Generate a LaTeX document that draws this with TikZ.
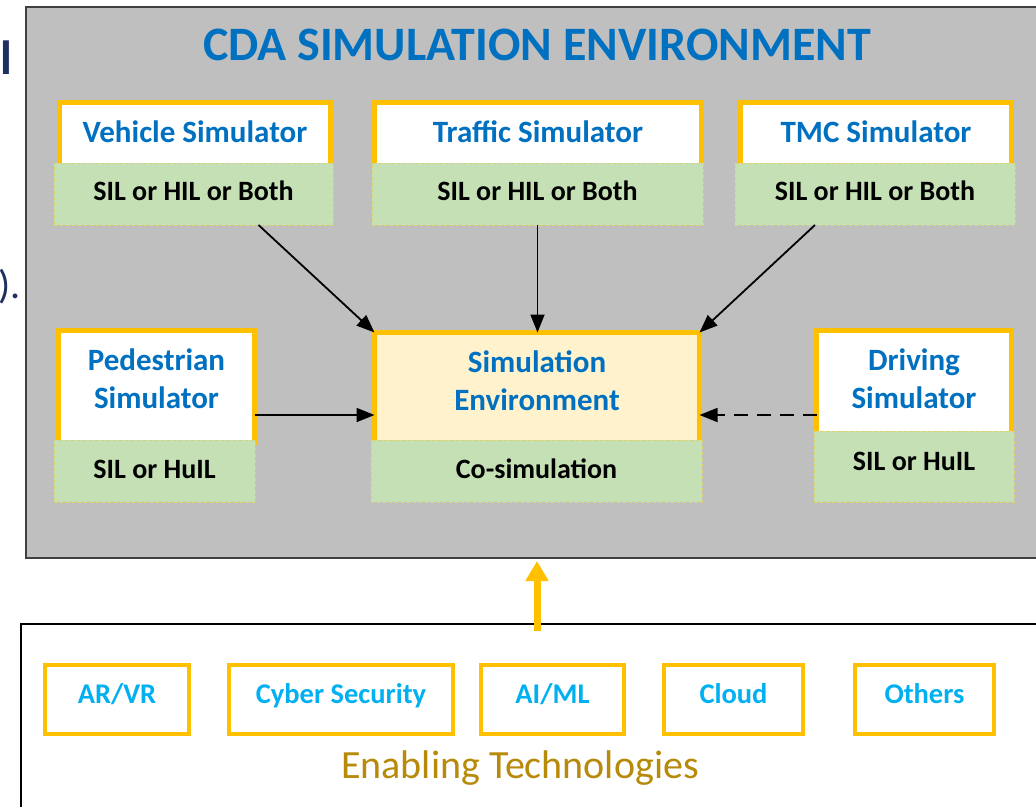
\documentclass[tikz,border=0pt]{standalone}
\usepackage{fontspec}
\setmainfont{Carlito}
\usetikzlibrary{arrows.meta}
\definecolor{cdablue}{RGB}{0,112,192}
\definecolor{techblue}{RGB}{0,176,240}
\definecolor{ygold}{RGB}{255,192,0}
\definecolor{sgreen}{RGB}{197,224,180}
\definecolor{cream}{RGB}{255,242,204}
\definecolor{panel}{RGB}{191,191,191}
\definecolor{panelline}{RGB}{64,64,64}
\definecolor{enabgold}{RGB}{184,138,10}
\definecolor{navy}{RGB}{31,48,96}
\begin{document}
\begin{tikzpicture}[x=1pt,y=-1pt,
  box/.style={rectangle, anchor=north west, inner sep=0pt, outer sep=0pt},
  simframe/.style={box, draw=ygold, line width=5pt, fill=white, text=cdablue,
    font=\fontsize{31}{38}\selectfont\bfseries, align=center},
  modebox/.style={box, fill=sgreen, draw=sgreen!60!ygold, dashed, line width=0.6pt,
    font=\fontsize{28}{32}\selectfont\bfseries},
  techbox/.style={box, draw=ygold, line width=4pt, fill=white, text=techblue,
    font=\fontsize{28.5}{32}\selectfont\bfseries, text depth=12pt},
  flow/.style={line width=1.8pt, -{Triangle[length=18pt,width=14pt]}},
]
\useasboundingbox (0,0) rectangle (1036,806);

% cropped slide text fragments at the left edge
\node[anchor=base west, inner sep=0pt, font=\fontsize{48}{50}\selectfont\bfseries, text=navy] (fragl) at (0,74) {l};
\node[anchor=base east, inner sep=0pt, font=\fontsize{40}{44}\selectfont, text=navy] (fragp) at (21,298) {).};

% main panel
\node[box, draw=panelline, line width=2pt, fill=panel, minimum width=1030pt, minimum height=551pt] (cda) at (26,7) {};
\node[font=\fontsize{48}{50}\selectfont\bfseries, text=cdablue] (title) at (537,45) {CDA SIMULATION ENVIRONMENT};

% top row
\node[simframe, minimum width=271pt, minimum height=63pt, text depth=5pt] (veh) at (59.5,102.5) {Vehicle Simulator};
\node[modebox, minimum width=279pt, minimum height=62pt, text depth=6pt] (vehg) at (54,163) {SIL or HIL or Both};

\node[simframe, minimum width=327pt, minimum height=63pt, text depth=5pt] (trf) at (374.5,102.5) {Traffic Simulator};
\node[modebox, minimum width=331pt, minimum height=62pt, text depth=6pt] (trfg) at (372,163) {SIL or HIL or Both};

\node[simframe, minimum width=271pt, minimum height=63pt, text depth=5pt] (tmc) at (740.5,102.5) {TMC Simulator};
\node[modebox, minimum width=280pt, minimum height=62pt, text depth=6pt] (tmcg) at (735,163) {SIL or HIL or Both};

% middle row
\node[simframe, minimum width=196pt, minimum height=112pt, text depth=15pt] (ped) at (58.5,330.5) {Pedestrian\\Simulator};
\node[modebox, minimum width=201pt, minimum height=62pt, text depth=4pt] (pedg) at (54,440) {SIL or HuIL};

\node[simframe, fill=cream, minimum width=325pt, minimum height=110pt, text depth=13pt] (sim) at (374.5,332.5) {Simulation\\Environment};
\node[modebox, minimum width=331pt, minimum height=62pt, text depth=4pt] (simg) at (371,440) {Co-simulation};

\node[simframe, minimum width=195pt, minimum height=103pt, text depth=6pt] (drv) at (816.5,330.5) {Driving\\Simulator};
\node[modebox, minimum width=200pt, minimum height=71pt, text depth=11pt] (drvg) at (814,431) {SIL or HuIL};

% connectors
\draw[flow] ([xshift=65pt]vehg.south) -- (sim.north west);
\draw[flow] (trfg.south) -- (trfg.south |- sim.north);
\draw[flow] ([xshift=-60pt]tmcg.south) -- (sim.north east);
\draw[flow] (ped.east |- 0,415) -- (sim.west |- 0,415);
\draw[flow, dash pattern=on 14pt off 9pt] (drv.west |- 0,415) -- (sim.east |- 0,415);

% enabling technologies
\node[box, draw=black, line width=2pt, fill=white, minimum width=1030pt, minimum height=200pt] (enab) at (21,624) {};
\node[techbox, minimum width=144pt, minimum height=69pt] (arvr) at (45,665) {AR/VR};
\node[techbox, minimum width=224pt, minimum height=69pt] (cyber) at (229,665) {Cyber Security};
\node[techbox, minimum width=143pt, minimum height=69pt] (aiml) at (481,665) {AI/ML};
\node[techbox, minimum width=139pt, minimum height=69pt] (cloud) at (664,665) {Cloud};
\node[techbox, minimum width=139pt, minimum height=69pt] (others) at (855,665) {Others};
\node[font=\fontsize{40}{44}\selectfont, text=enabgold] (enabtxt) at (520,768) {Enabling Technologies};

\draw[line width=7pt, ygold, -{Triangle[length=20pt,width=22pt]}]
  ([yshift=-7pt]enab.north -| sim.south) -- ([yshift=-3pt]cda.south -| sim.south);
\end{tikzpicture}
\end{document}
